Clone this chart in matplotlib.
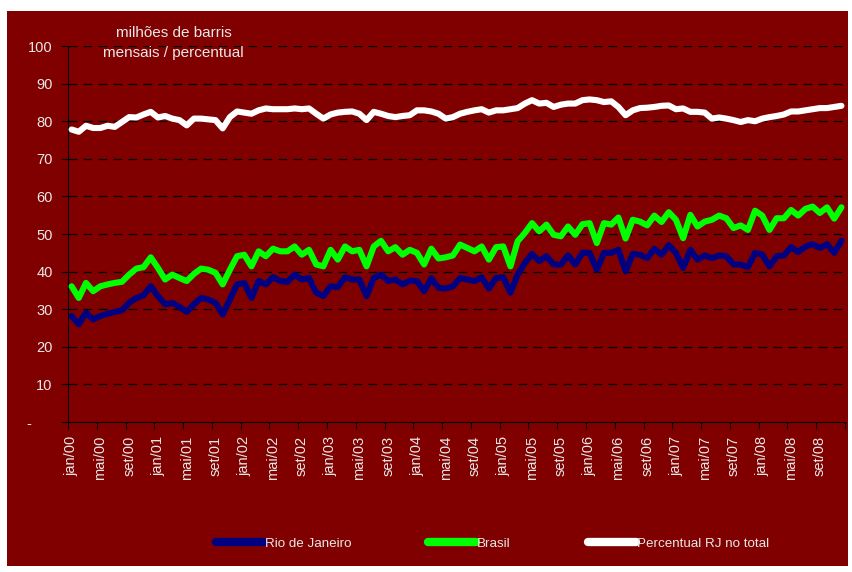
import numpy as np
import matplotlib
matplotlib.use("Agg")
import matplotlib.pyplot as plt
from matplotlib.patches import Rectangle

plt.rcParams["font.family"] = ["Liberation Sans", "DejaVu Sans"]

# monthly, jan/2000 .. dez/2008
meses = ["jan", "fev", "mar", "abr", "mai", "jun", "jul", "ago", "set", "out", "nov", "dez"]
periodos = [f"{m}/{a:02d}" for a in range(0, 9) for m in meses]

rio = [28.2, 26.0, 29.1, 27.3, 28.2, 28.8, 29.3, 29.7, 31.7, 33.0, 33.7, 36.1,
       33.5, 31.3, 31.7, 30.6, 29.3, 31.3, 33.0, 32.6, 31.7, 28.6, 32.6, 36.6,
       37.0, 33.0, 37.5, 36.6, 38.5, 37.5, 37.3, 39.2, 37.9, 38.3, 34.4, 33.5,
       36.1, 35.9, 38.5, 37.9, 37.9, 33.5, 38.3, 39.2, 37.5, 37.9, 36.6, 37.6,
       37.5, 34.8, 38.2, 35.7, 35.5, 36.1, 38.3, 37.9, 37.5, 38.5, 35.5, 38.3,
       38.5, 34.4, 39.2, 42.3, 44.7, 42.8, 44.1, 41.9, 41.9, 44.3, 41.9, 45.0,
       45.0, 40.5, 45.0, 45.0, 45.8, 40.1, 44.7, 44.5, 43.6, 46.1, 44.5, 47.0,
       45.0, 41.0, 45.8, 43.2, 44.3, 43.6, 44.3, 44.1, 41.9, 41.9, 41.2, 45.0,
       44.5, 41.4, 44.1, 44.3, 46.5, 45.2, 46.7, 47.3, 46.3, 47.3, 45.0, 48.2]

brasil = [36.1, 33.0, 37.0, 34.8, 36.1, 36.6, 37.0, 37.3, 39.2, 40.8, 41.2, 43.8,
          41.0, 37.9, 39.2, 38.3, 37.5, 39.4, 40.8, 40.5, 39.7, 36.6, 40.5, 44.1,
          44.5, 41.4, 45.4, 44.1, 46.1, 45.4, 45.4, 46.7, 44.5, 45.8, 41.9, 41.4,
          45.8, 43.2, 46.7, 45.4, 45.8, 41.4, 46.7, 48.2, 45.4, 46.5, 44.5, 45.8,
          45.0, 41.9, 46.1, 43.5, 43.8, 44.3, 47.2, 46.3, 45.4, 46.7, 43.2, 46.5,
          46.7, 41.4, 48.1, 50.3, 52.9, 50.7, 52.5, 49.8, 49.4, 52.0, 49.8, 52.6,
          52.9, 47.6, 52.9, 52.5, 54.4, 48.8, 53.8, 53.3, 52.3, 54.9, 53.2, 55.8,
          53.8, 48.9, 55.1, 52.0, 53.3, 53.8, 54.9, 54.2, 51.6, 52.3, 51.1, 56.2,
          54.9, 51.1, 54.2, 54.2, 56.4, 54.9, 56.7, 57.3, 55.6, 57.1, 54.1, 57.1]

percentual = [77.8, 77.2, 78.8, 78.2, 78.2, 78.8, 78.5, 79.8, 81.1, 81.0, 81.8, 82.5,
              81.0, 81.4, 80.7, 80.3, 78.9, 80.7, 80.7, 80.5, 80.3, 78.1, 81.1, 82.6,
              82.3, 82.0, 82.9, 83.4, 83.2, 83.2, 83.2, 83.4, 83.2, 83.4, 82.0, 80.7,
              81.8, 82.3, 82.5, 82.6, 82.0, 80.3, 82.5, 82.0, 81.4, 81.1, 81.4, 81.6,
              82.9, 82.9, 82.6, 82.0, 80.7, 81.1, 82.0, 82.5, 82.9, 83.2, 82.3, 82.9,
              82.9, 83.2, 83.5, 84.7, 85.6, 84.7, 84.9, 83.8, 84.4, 84.7, 84.7, 85.6,
              85.8, 85.6, 85.1, 85.3, 83.8, 81.6, 82.9, 83.5, 83.6, 83.8, 84.1, 84.2,
              83.2, 83.4, 82.5, 82.5, 82.3, 80.7, 81.0, 80.7, 80.3, 79.8, 80.3, 80.0,
              80.7, 81.1, 81.4, 81.8, 82.6, 82.6, 82.9, 83.2, 83.5, 83.5, 83.8, 84.1]

y_ticks = [0, 10, 20, 30, 40, 50, 60, 70, 80, 90, 100]
y_labels = ["-     ", "10", "20", "30", "40", "50", "60", "70", "80", "90", "100"]

bg = "#800000"
txt = "#e8e8e8"

fig = plt.figure(figsize=(8.52, 5.72), dpi=100)
fig.patches.append(Rectangle((0.0082, 0.0105), 0.987, 0.970, transform=fig.transFigure,
                             facecolor=bg, edgecolor="none", zorder=-10))

ax = fig.add_axes([0.0798, 0.2622, 0.912, 0.6573])
ax.set_facecolor(bg)

x = np.arange(len(periodos))
ax.plot(x, rio, color="#000080", lw=4.4, solid_joinstyle="round", solid_capstyle="round",
        label="Rio de Janeiro", zorder=3)
ax.plot(x, brasil, color="#00ff00", lw=4.4, solid_joinstyle="round", solid_capstyle="round",
        label="Brasil", zorder=3)
ax.plot(x, percentual, color="#ffffff", lw=4.4, solid_joinstyle="round", solid_capstyle="round",
        label="Percentual RJ no total", zorder=3)

ax.set_xlim(-0.5, len(periodos) - 0.5)
ax.set_ylim(0, 100)

for s in ["top", "right"]:
    ax.spines[s].set_visible(False)
ax.spines["left"].set_color("black")
ax.spines["bottom"].set_color("black")

ax.set_yticks(y_ticks)
ax.set_yticklabels(y_labels, color=txt, fontsize=10.5)
ax.tick_params(axis="y", direction="out", length=5, color="black", pad=6)
for v in y_ticks[1:]:
    ax.axhline(v, color="black", lw=0.9, ls=(0, (7, 5)), zorder=1)

# ticks on month boundaries, labels every 4 months
ax.set_xticks(np.arange(-0.5, len(periodos), 4))
ax.set_xticklabels([])
ax.tick_params(axis="x", which="major", direction="out", length=5, color="black")
ax.set_xticks(x[::4], minor=True)
ax.set_xticklabels(periodos[::4], minor=True, rotation=90, color=txt, fontsize=10.5)
ax.tick_params(axis="x", which="minor", length=0, pad=10)

fig.text(0.204, 0.942, "milhões de barris", color=txt, fontsize=11, ha="center", va="center")
fig.text(0.204, 0.907, "mensais / percentual", color=txt, fontsize=11, ha="center", va="center")

leg = fig.legend(loc="center", bbox_to_anchor=(0.578, 0.049), ncol=3, frameon=False,
                 handlelength=3.6, handletextpad=0.05, columnspacing=5.8, fontsize=9.6)
for t in leg.get_texts():
    t.set_color(txt)
for h in leg.get_lines():
    h.set_linewidth(6)

fig.savefig("out.png", dpi=100, facecolor="white")
